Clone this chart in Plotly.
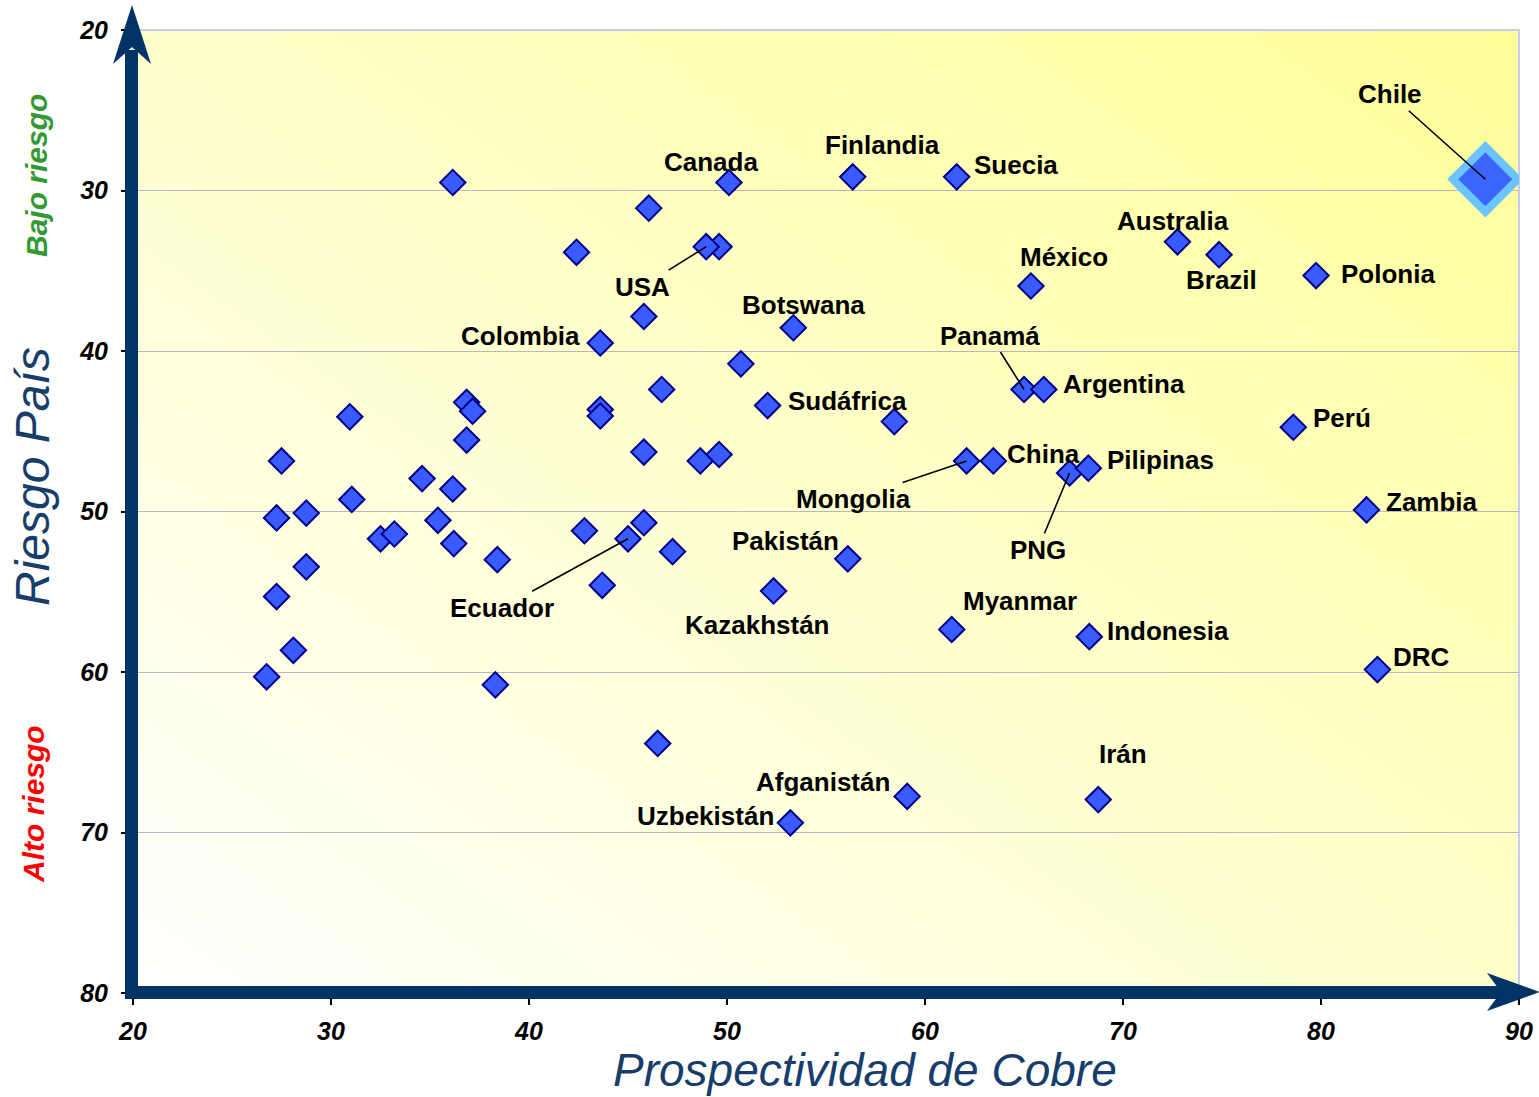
import base64
import plotly.graph_objects as go

# ---------------- DATA ----------------
countries = ["Canada", "Finlandia", "Suecia", "USA", "Colombia", "Botswana", "México",
             "Australia", "Brazil", "Polonia", "Panamá", "Argentina", "Sudáfrica",
             "Mongolia", "China", "PNG", "Pilipinas", "Perú", "Zambia", "Pakistán",
             "Ecuador", "Kazakhstán", "Myanmar", "Indonesia", "DRC", "Irán",
             "Afganistán", "Uzbekistán"]
prospectividad = [50.1, 56.35, 61.6, 48.95, 43.6, 53.35, 65.35,
                  72.75, 74.85, 79.75, 65.0, 66.0, 52.05,
                  62.1, 63.45, 67.3, 68.25, 78.6, 82.3, 56.1,
                  45.0, 52.35, 61.35, 68.3, 82.85, 68.75,
                  59.1, 53.2]
riesgo = [29.5, 29.15, 29.15, 33.5, 39.5, 38.55, 35.95,
          33.2, 34.0, 35.3, 42.4, 42.4, 43.4,
          46.85, 46.85, 47.6, 47.3, 44.75, 49.9, 52.95,
          51.7, 54.95, 57.35, 57.8, 59.85, 67.95,
          67.75, 69.4]

chile_name = "Chile"
chile_prospectividad = 88.3
chile_riesgo = 29.3

otros_prospectividad = [36.15, 46.05, 42.4, 49.6, 45.8, 46.7, 36.85, 37.15, 30.95, 43.6,
                        43.6, 36.85, 27.5, 45.8, 48.65, 49.6, 34.6, 36.15, 31.05, 27.25,
                        28.75, 32.5, 33.2, 35.4, 36.2, 38.4, 42.8, 45.8, 47.25, 43.7,
                        28.75, 27.25, 28.1, 26.75, 38.3, 46.5, 50.7, 58.45]
otros_riesgo = [29.5, 31.1, 33.85, 33.5, 37.85, 42.4, 43.2, 43.75, 44.1, 43.65,
                44.05, 45.55, 46.85, 46.3, 46.85, 46.45, 47.95, 48.6, 49.25, 50.4,
                50.1, 51.7, 51.4, 50.55, 52.0, 53.0, 51.2, 50.7, 52.5, 54.6,
                53.45, 55.3, 58.65, 60.3, 60.8, 64.45, 40.8, 44.4]

x_ticks = [20, 30, 40, 50, 60, 70, 80, 90]
y_ticks = [20, 30, 40, 50, 60, 70, 80]

x_title = "Prospectividad de Cobre"
y_title = "Riesgo País"
top_note = "Bajo riesgo"
bottom_note = "Alto riesgo"

# ---------------- STYLE / LAYOUT ----------------
W_FIG, H_FIG = 1539, 1097
L, R, T, B = 133, 20, 30, 104
PW = W_FIG - L - R
PH = H_FIG - T - B

NAVY = "#003366"
TITLE_BLUE = "#173D6B"
FONT = "Liberation Sans"

# label offsets (pixels, text centre relative to its marker)
label_offsets = {
    "Canada": (-18, -20), "Finlandia": (30, -32), "Suecia": (59, -12),
    "USA": (-64, 40), "Colombia": (-80, -7), "Botswana": (10, -23),
    "México": (33, -29), "Australia": (-4, -21), "Brazil": (2, 25),
    "Polonia": (72, -2), "Panamá": (-34, -54), "Argentina": (80, -6),
    "Sudáfrica": (80, -5), "Mongolia": (-113, 38), "China": (50, -7),
    "PNG": (-32, 77), "Pilipinas": (72, -8), "Perú": (49, -9),
    "Zambia": (65, -8), "Pakistán": (-62, -18), "Ecuador": (-126, 69),
    "Kazakhstán": (-16, 34), "Myanmar": (68, -28), "Indonesia": (79, -6),
    "DRC": (44, -13), "Irán": (25, -46), "Afganistán": (-84, -14),
    "Uzbekistán": (-85, -7), "Chile": (-95, -85),
}
leader_lines = {"USA", "Panamá", "Mongolia", "PNG", "Ecuador", "Chile"}


def pxx(xp):
    return (xp - L) / PW


def pxy(yp):
    return (T + PH - yp) / PH


fig = go.Figure()

fig.add_trace(go.Scatter(
    x=otros_prospectividad, y=otros_riesgo, mode="markers",
    marker=dict(symbol="diamond", size=19.5, color="#3A5CFF",
                line=dict(color="#000088", width=2)),
    hoverinfo="x+y", showlegend=False))

fig.add_trace(go.Scatter(
    x=prospectividad, y=riesgo, mode="markers", text=countries,
    marker=dict(symbol="diamond", size=19.5, color="#3A5CFF",
                line=dict(color="#000088", width=2)),
    hoverinfo="text+x+y", showlegend=False))

fig.add_trace(go.Scatter(
    x=[chile_prospectividad], y=[chile_riesgo], mode="markers", text=[chile_name],
    marker=dict(symbol="diamond", size=50, color="#3A66FF",
                line=dict(color="#6CC4FF", width=8)),
    hoverinfo="text+x+y", showlegend=False))

label_font = dict(family=FONT, size=26, color="black", weight="bold")
annotations = []
for name, xv, yv in list(zip(countries, prospectividad, riesgo)) + [
        (chile_name, chile_prospectividad, chile_riesgo)]:
    dx, dy = label_offsets[name]
    if name in leader_lines:
        annotations.append(dict(
            x=xv, y=yv, xref="x", yref="y", text=name, font=label_font,
            showarrow=True, arrowhead=0, arrowwidth=1.6, arrowcolor="black",
            ax=dx, ay=dy, standoff=0, startstandoff=0))
    else:
        annotations.append(dict(
            x=xv, y=yv, xref="x", yref="y", text=name, font=label_font,
            showarrow=False, xshift=dx, yshift=-dy))

# axis titles and notes
annotations += [
    dict(x=pxx(865), y=pxy(1070), xref="paper", yref="paper", text=x_title,
         xanchor="center", yanchor="middle", showarrow=False,
         font=dict(family=FONT, size=46, color=TITLE_BLUE, style="italic")),
    dict(x=pxx(32), y=pxy(477), xref="paper", yref="paper", text=y_title, textangle=-90,
         xanchor="center", yanchor="middle", showarrow=False,
         font=dict(family=FONT, size=48, color=TITLE_BLUE, style="italic")),
    dict(x=pxx(36), y=pxy(176), xref="paper", yref="paper", text=top_note, textangle=-90,
         xanchor="center", yanchor="middle", showarrow=False,
         font=dict(family=FONT, size=30, color="#339933", style="italic", weight="bold")),
    dict(x=pxx(33), y=pxy(804), xref="paper", yref="paper", text=bottom_note, textangle=-90,
         xanchor="center", yanchor="middle", showarrow=False,
         font=dict(family=FONT, size=30, color="#FF0000", style="italic", weight="bold")),
]

# gradient background for the plot area
svg = ("<svg xmlns='http://www.w3.org/2000/svg' width='200' height='200' viewBox='0 0 200 200' "
       "preserveAspectRatio='none'><defs><linearGradient id='g' x1='0' y1='1' x2='1' y2='0'>"
       "<stop offset='0' stop-color='#FFFFFF'/><stop offset='0.5' stop-color='#FFFFCC'/>"
       "<stop offset='1' stop-color='#FFFF99'/></linearGradient></defs>"
       "<rect width='200' height='200' fill='url(#g)'/></svg>")
svg_uri = "data:image/svg+xml;base64," + base64.b64encode(svg.encode()).decode()

shapes = [
    dict(type="rect", xref="paper", yref="paper", x0=0, x1=1, y0=0, y1=1,
         line=dict(color="#C8CCF2", width=2), fillcolor="rgba(0,0,0,0)", layer="below"),
    # vertical axis shaft
    dict(type="rect", xref="paper", yref="paper", x0=pxx(125), x1=pxx(138),
         y0=pxy(999), y1=pxy(50), fillcolor=NAVY, line=dict(width=0), layer="above"),
    # horizontal axis shaft
    dict(type="rect", xref="paper", yref="paper", x0=pxx(125), x1=pxx(1504),
         y0=pxy(999), y1=pxy(986), fillcolor=NAVY, line=dict(width=0), layer="above"),
    # top arrow head
    dict(type="path", xref="paper", yref="paper",
         path=(f"M {pxx(132)} {pxy(5)} L {pxx(151)} {pxy(64)} L {pxx(132)} {pxy(47)} "
               f"L {pxx(113)} {pxy(64)} Z"),
         fillcolor=NAVY, line=dict(width=0), layer="above"),
    # right arrow head
    dict(type="path", xref="paper", yref="paper",
         path=(f"M {pxx(1540)} {pxy(992)} L {pxx(1487)} {pxy(973)} L {pxx(1501)} {pxy(992)} "
               f"L {pxx(1487)} {pxy(1011)} Z"),
         fillcolor=NAVY, line=dict(width=0), layer="above"),
]

tick_font = dict(family=FONT, size=25, color="black", weight="bold", style="italic")

fig.update_layout(
    width=W_FIG, height=H_FIG,
    margin=dict(l=L, r=R, t=T, b=B, autoexpand=False),
    paper_bgcolor="white", plot_bgcolor="white",
    showlegend=False,
    annotations=annotations,
    shapes=shapes,
    images=[dict(source=svg_uri, xref="paper", yref="paper", x=0, y=1, sizex=1, sizey=1,
                 xanchor="left", yanchor="top", sizing="stretch", layer="below")],
    xaxis=dict(range=[20, 90], tickvals=x_ticks, ticktext=[str(v) for v in x_ticks],
               showgrid=False, zeroline=False, showline=False,
               ticks="outside", ticklen=11, tickwidth=2, tickcolor="black",
               tickfont=tick_font, ticklabelstandoff=5),
    yaxis=dict(range=[80, 20], tickvals=y_ticks, ticktext=[str(v) for v in y_ticks],
               showgrid=True, gridcolor="#B8B8C4", gridwidth=1,
               zeroline=False, showline=False,
               ticks="outside", ticklen=11, tickwidth=2, tickcolor="black",
               tickfont=tick_font, ticklabelstandoff=8),
)

fig.write_html("out.html", config={"displayModeBar": False},
               post_script="document.body.style.margin='0';document.body.style.overflow='hidden';")
